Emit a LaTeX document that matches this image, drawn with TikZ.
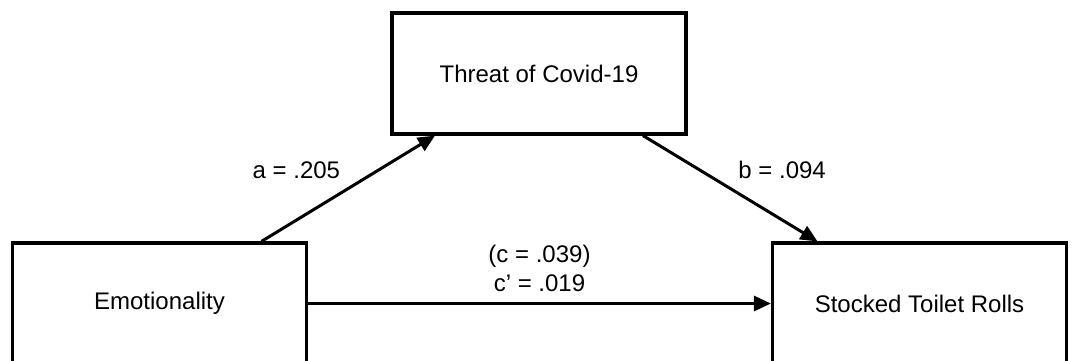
\documentclass[tikz,border=0pt]{standalone}
\usepackage{fontspec}
\setmainfont{Liberation Sans}
\usetikzlibrary{arrows.meta}
\begin{document}
\begin{tikzpicture}[x=1pt,y=1pt,font=\fontsize{12}{14.5}\selectfont,
  box/.style={draw,line width=1.6pt,minimum width=147pt,minimum height=60.5pt,inner sep=0pt},
  link/.style={line width=1.5pt,-{Triangle[length=8.5pt,width=7.5pt]}}]
\useasboundingbox (0,0) rectangle (537,180);
\node[box] (threat) at (269.5,143.25) {Threat of Covid-19};
\node[box] (emo) at (79.75,28.25) {Emotionality};
\node[box] (rolls) at (459.75,28.25) {Stocked Toilet Rolls};
\draw[link] ([xshift=51pt]emo.north)--([xshift=-52pt]threat.south) node[midway,above left,yshift=1pt]{a = .205};
\draw[link] ([xshift=52pt]threat.south)--([xshift=-51pt]rolls.north) node[midway,above right,yshift=1pt]{b = .094};
\draw[link] (emo.east)--(rolls.west) node[midway,above,align=center,yshift=2pt]{(c = .039)\\c' = .019};
\end{tikzpicture}
\end{document}
